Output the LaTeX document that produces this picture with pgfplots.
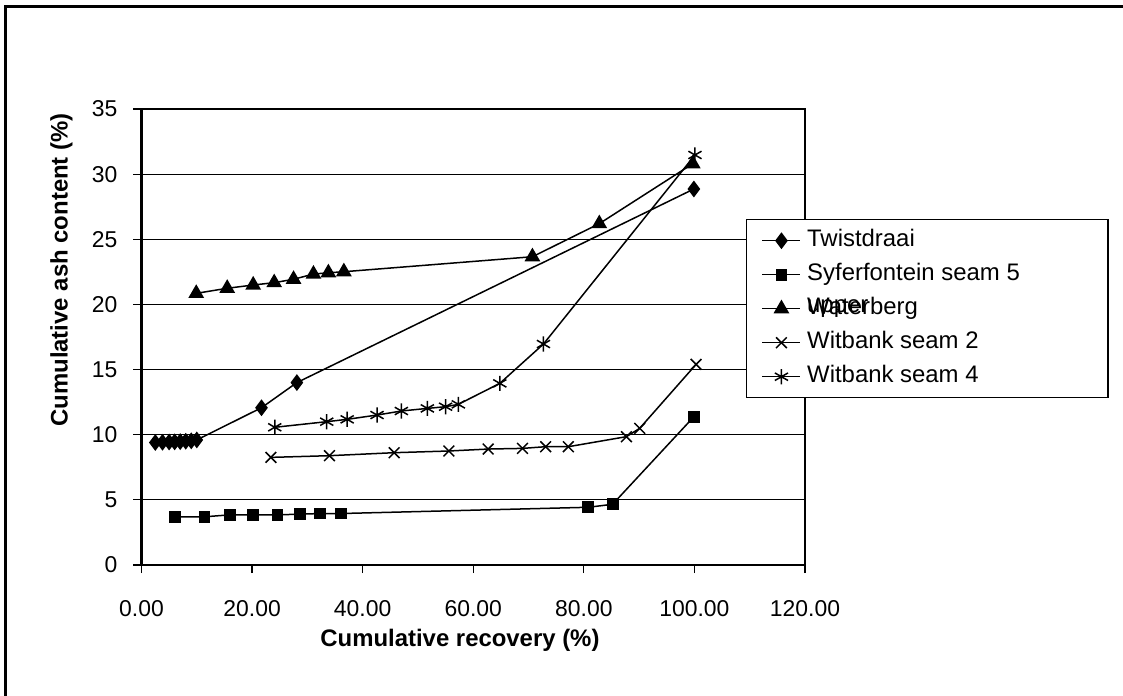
\documentclass[border=0pt]{standalone}
\usepackage{pgfplots}
\pgfplotsset{compat=1.18}
\usepackage{fontspec}
\setmainfont{Liberation Sans}

\begin{document}
\begin{tikzpicture}
\path[use as bounding box] (0,0) rectangle (561.5bp,348bp);
% outer frame of the chart area
\draw[line width=1.5bp] (2.5bp,0) -- (2.5bp,344.5bp) -- (561.5bp,344.5bp);
\begin{axis}[
  at={(70.75bp,65.5bp)}, anchor=south west,
  width=331.75bp, height=228bp, scale only axis,
  xmin=0, xmax=120, ymin=0, ymax=35,
  xtick={0,20,...,120}, ytick={0,5,...,35},
  tick pos=left,
  ymajorgrids,
  major grid style={black, line width=0.6bp},
  axis line style={line width=1.3bp},
  tick style={black, line width=0.6bp},
  tick align=outside, major tick length=4bp,
  /pgf/number format/assume math mode=true,
  xticklabel style={yshift=-10bp,
    /pgf/number format/fixed, /pgf/number format/fixed zerofill,
    /pgf/number format/precision=2},
  yticklabel style={xshift=-4.5bp},
  ticklabel style={font=\fontsize{11.5}{13}\selectfont},
  xlabel={\textbf{Cumulative recovery (\%)}},
  ylabel={\textbf{Cumulative ash content (\%)}},
  label style={font=\fontsize{12}{14}\selectfont},
  xlabel style={at={(axis description cs:0.48,-0.1645)}, anchor=center},
  ylabel style={at={(axis description cs:-0.1206,0.647)}, anchor=center},
  legend cell align=left,
  legend style={at={(0.911,0.7588)}, anchor=north west, draw=black,
    line width=0.75bp, font=\fontsize{12}{14}\selectfont,
    inner xsep=7.5bp,
    nodes={text height=8.5bp, text depth=2.5bp, inner sep=3bp}},
  every axis plot/.append style={black, line width=0.75bp, mark options={solid}},
  % short legend sample
  every axis plot post/.append style={
    legend image code/.code={%
      \draw[mark repeat=2, mark phase=2]
        plot coordinates {(0bp,0bp) (9.5bp,0bp) (19bp,0bp)};}},
]
\addplot[mark=diamond*, mark size=3.6bp] coordinates {
  (2.5,9.4) (3.8,9.42) (5.0,9.44) (6.0,9.45) (7.0,9.47) (8.0,9.5) (9.0,9.53) (10.0,9.6)
  (21.7,12.07) (28.1,14.0) (99.9,28.86)
};
\addlegendentry{\makebox[140bp][l]{Twistdraai}}
\addplot[mark=square*, mark size=2.6bp] coordinates {
  (6.0,3.7) (11.4,3.7) (16.0,3.85) (20.2,3.85) (24.6,3.85) (28.6,3.9) (32.3,3.95) (36.0,3.95)
  (80.8,4.43) (85.2,4.66) (99.9,11.38)
};
\addlegendentry{\smash{\rlap{\raisebox{-16bp}{upper}}}Syferfontein seam 5}
\addplot[mark=triangle*, mark size=3.8bp] coordinates {
  (9.9,20.85) (15.5,21.24) (20.2,21.49) (24.0,21.67) (27.5,21.93) (31.1,22.33) (33.8,22.43) (36.6,22.51)
  (70.7,23.66) (82.8,26.2) (99.7,30.8)
};
\addlegendentry{Waterberg}
\addplot[mark=x, mark size=3.8bp] coordinates {
  (23.4,8.26) (34.0,8.39) (45.7,8.62) (55.6,8.75) (62.7,8.9) (68.9,8.95) (73.1,9.08) (77.2,9.08)
  (87.7,9.85) (90.1,10.49) (100.3,15.4)
};
\addlegendentry{Witbank seam 2}
\addplot[mark=asterisk, mark size=3.8bp] coordinates {
  (24.1,10.57) (33.5,11.0) (37.2,11.18) (42.6,11.51) (47.0,11.82) (51.7,12.02) (55.0,12.15) (57.3,12.33)
  (64.8,13.94) (72.7,16.96) (100.1,31.47)
};
\addlegendentry{Witbank seam 4}
\end{axis}
\end{tikzpicture}
\end{document}
